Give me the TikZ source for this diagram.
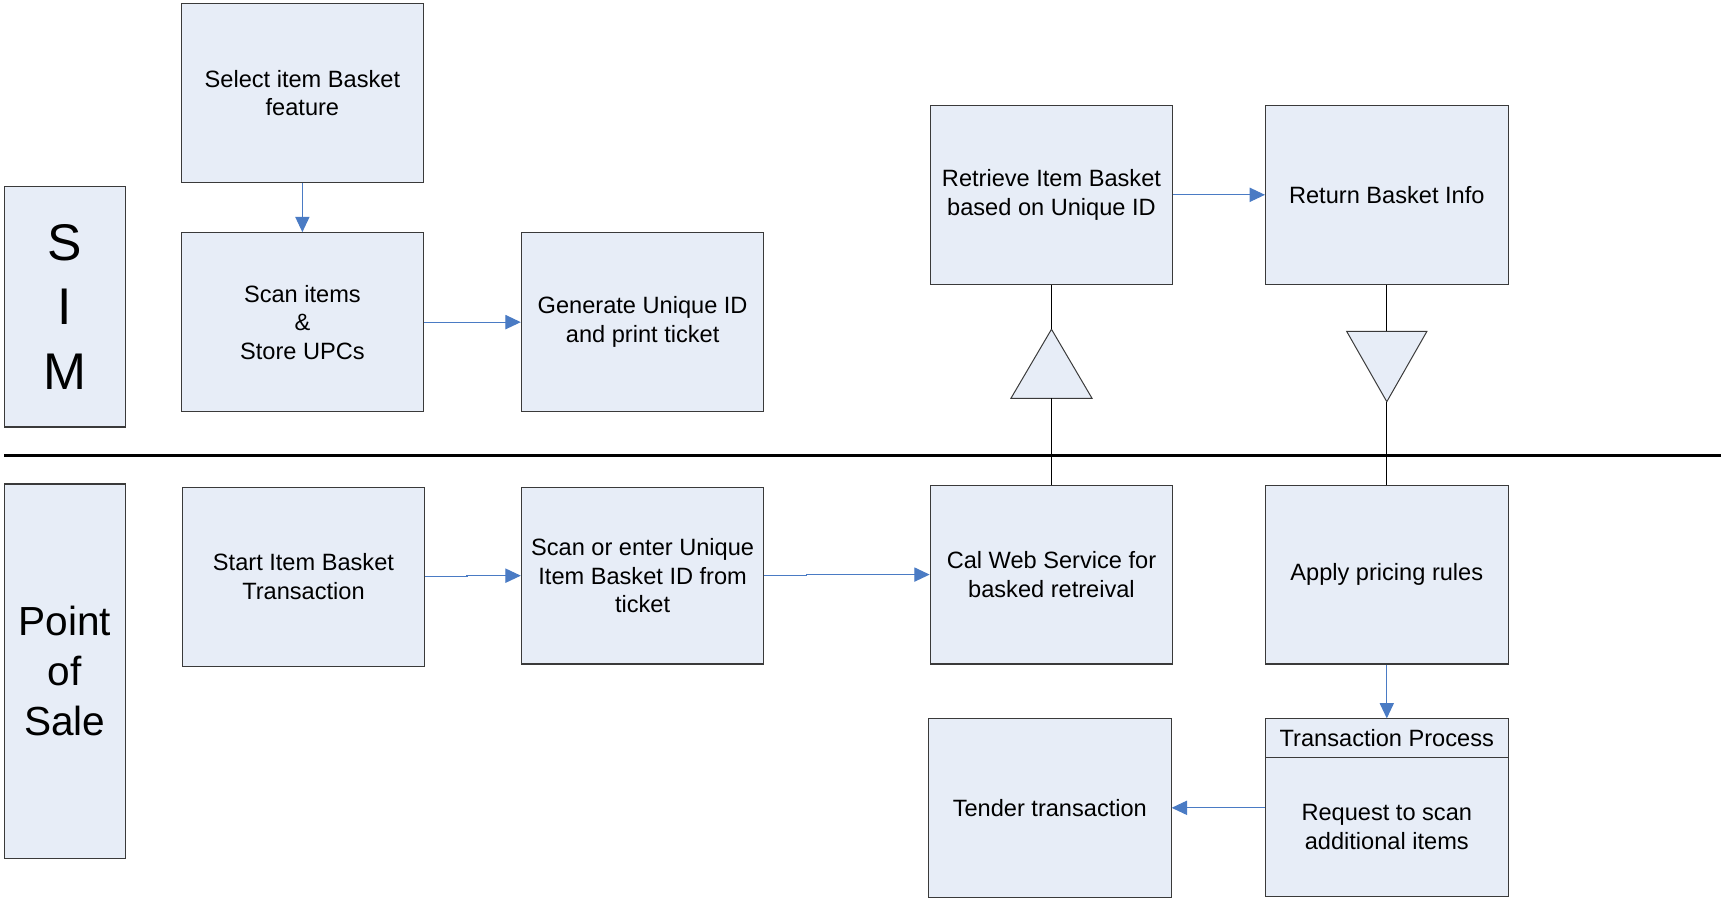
\documentclass[tikz,border=0pt]{standalone}
\usepackage{fontspec}
\setmainfont{Liberation Sans}
\usepackage{tikz}
\usetikzlibrary{arrows.meta}

\definecolor{boxfill}{HTML}{E7EDF7}
\definecolor{boxline}{HTML}{3A3A3A}
\definecolor{flowblue}{HTML}{4A7BC4}

\begin{document}
\begin{tikzpicture}[x=1pt, y=-1pt,
  box/.style={draw=boxline, fill=boxfill, line width=1pt, inner sep=0pt,
    minimum width=221pt, minimum height=163pt, align=center,
    font=\fontsize{21.5}{26}\selectfont},
  lane/.style={box, minimum width=110pt},
  flow/.style={draw=flowblue, line width=1pt, -{Triangle[length=14pt,width=13pt]}},
  link/.style={draw=black, line width=0.9pt},
  tri/.style={draw=boxline, fill=boxfill, line width=0.9pt, line join=miter}]
\useasboundingbox (0,0) rectangle (1568,818);
% Swimlane labels
\node[lane, minimum height=219pt, font=\fontsize{47}{59}\selectfont] (sim) at (59,279.5) {S\\I\\M};
\node[lane, minimum height=341pt, font=\fontsize{37}{45.6}\selectfont] (pos) at (59,611.5) {Point\\of\\Sale};
\draw[line width=3.2pt] (4,415) -- (1568,415);
% SIM side
\node[box] (sel) at (275.5,85) {Select item Basket\\feature};
\node[box] (scan) at (275.5,293.5) {Scan items\\\&\\Store UPCs};
\node[box] (gen) at (585.5,293.5) {Generate Unique ID\\and print ticket};
\node[box] (retr) at (958,177.5) {Retrieve Item Basket\\based on Unique ID};
\node[box] (ret) at (1263.5,177.5) {Return Basket Info};
% Point of Sale side
\node[box] (start) at (276.5,525.5) {Start Item Basket\\Transaction};
\node[box, minimum height=161pt] (scanent) at (585.5,524.5) {Scan or enter Unique\\Item Basket ID from\\ticket};
\node[box] (cal) at (958,523.5) {Cal Web Service for\\basked retreival};
\node[box] (apply) at (1263.5,523.5) {Apply pricing rules};
\node[box] (tender) at (956.5,736) {Tender transaction};
\node[box, minimum height=35pt] (transhd) at (1263.5,672.5) {Transaction Process};
\node[box, minimum height=127pt] (transbody) at (1263.5,753.5) {Request to scan\\additional items};
% Triangles across the lanes
\coordinate (uptip) at (958,300);
\coordinate (upbase) at (958,363);
\draw[tri] (921,363) -- (uptip) -- (995,363) -- cycle;
\coordinate (dntop) at (1263.5,302);
\coordinate (dntip) at (1263.5,366);
\draw[tri] (1227,302) -- (1300,302) -- (dntip) -- cycle;
\draw[link] (retr.south) -- (uptip);
\draw[link] (upbase) -- (cal.north);
\draw[link] (ret.south) -- (dntop);
\draw[link] (dntip) -- (apply.north);
% Flow arrows
\draw[flow] (sel.south) -- (scan.north);
\draw[flow] (scan.east) -- (gen.west);
\draw[flow] (retr.east) -- (ret.west);
\draw[flow] (start.east) -- ++(38,0) |- (scanent.west);
\draw[flow] (scanent.east) -- ++(38,0) |- (cal.west);
\draw[flow] (apply.south) -- (transhd.north);
\draw[flow] (transbody.west |- tender.east) -- (tender.east);
\end{tikzpicture}
\end{document}
